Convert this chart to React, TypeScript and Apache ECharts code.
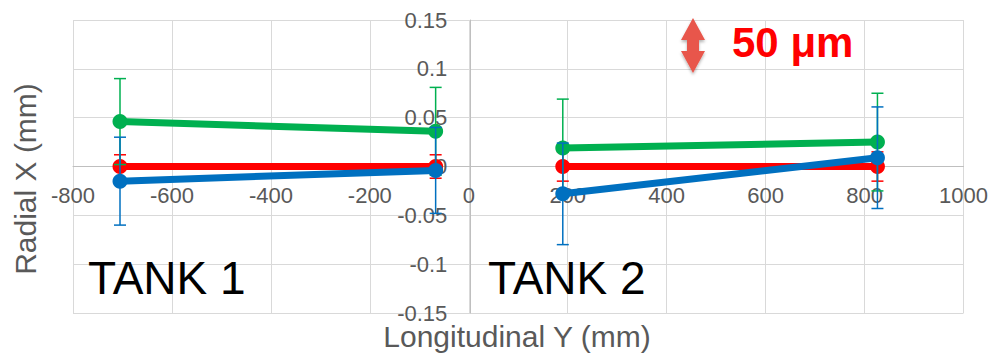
import React, { useEffect, useRef } from "react";
import * as echarts from "echarts";

const tank1X = [-705, -67];
const tank2X = [190, 826];

const green1 = [0.046, 0.036];
const greenErr1 = [0.044, 0.045];
const red1 = [0, 0];
const redErr1 = [0.012, 0.012];
const blue1 = [-0.015, -0.004];
const blueErr1 = [0.045, 0.044];

const green2 = [0.019, 0.025];
const greenErr2 = [0.05, 0.05];
const red2 = [0, 0];
const redErr2 = [0.015, 0.015];
const blue2 = [-0.028, 0.009];
const blueErr2 = [0.052, 0.052];

const xTicks = { min: -800, max: 1000, interval: 200 };
const yTicks = { min: -0.15, max: 0.15, interval: 0.05 };

const FONT = "'Liberation Sans', Arial, sans-serif";
const GREEN = "#00B050";
const RED = "#FF0000";
const BLUE = "#0070C0";

const GRID = { left: 73, right: 24, top: 20, bottom: 44 };
const W = 991;
const H = 357;

function lineSeries(name: string, xs: number[], ys: number[], color: string, z: number) {
  return {
    name,
    type: "line",
    data: xs.map((x, i) => [x, ys[i]]),
    symbol: "circle",
    symbolSize: 15,
    showSymbol: true,
    lineStyle: { color, width: 7 },
    itemStyle: { color },
    z,
  };
}

function errSeries(name: string, xs: number[], ys: number[], errs: number[], color: string, z: number) {
  return {
    name,
    type: "custom",
    data: xs.map((x, i) => [x, ys[i], errs[i]]),
    encode: { x: 0, y: 1 },
    z,
    renderItem: (params: any, api: any) => {
      const x = api.value(0);
      const y = api.value(1);
      const e = api.value(2);
      const top = api.coord([x, y + e]);
      const bot = api.coord([x, y - e]);
      const hw = 6;
      const style = { stroke: color, lineWidth: 1.5 };
      return {
        type: "group",
        children: [
          { type: "line", shape: { x1: top[0], y1: top[1], x2: bot[0], y2: bot[1] }, style },
          { type: "line", shape: { x1: top[0] - hw, y1: top[1], x2: top[0] + hw, y2: top[1] }, style },
          { type: "line", shape: { x1: bot[0] - hw, y1: bot[1], x2: bot[0] + hw, y2: bot[1] }, style },
        ],
      };
    },
  };
}

export default function App() {
  const ref = useRef<HTMLDivElement>(null);
  useEffect(() => {
    if (!ref.current) return;
    const chart = echarts.init(ref.current, null, { renderer: "svg" });
    const labelStyle = { color: "#595959", fontSize: 22, fontFamily: FONT };
    const plotW = W - GRID.left - GRID.right;
    const plotH = H - GRID.top - GRID.bottom;
    // distance from the grid's edge to the zero line of each axis
    const xOffset = -plotH * (0 - yTicks.min) / (yTicks.max - yTicks.min);
    const yOffset = -plotW * (0 - xTicks.min) / (xTicks.max - xTicks.min);
    chart.setOption({
      animation: false,
      backgroundColor: "#ffffff",
      grid: { ...GRID, containLabel: false },
      xAxis: {
        type: "value",
        min: xTicks.min,
        max: xTicks.max,
        interval: xTicks.interval,
        position: "bottom",
        offset: xOffset,
        axisLine: { show: true, onZero: false, lineStyle: { color: "#BFBFBF", width: 1 } },
        axisTick: { show: false },
        axisLabel: {
          ...labelStyle,
          margin: 18,
          showMinLabel: true,
          showMaxLabel: true,
          formatter: (v: number) => String(v),
        },
        splitLine: { show: true, lineStyle: { color: "#D9D9D9", width: 1 } },
      },
      yAxis: {
        type: "value",
        min: yTicks.min,
        max: yTicks.max,
        interval: yTicks.interval,
        position: "left",
        offset: yOffset,
        axisLine: { show: true, onZero: false, lineStyle: { color: "#BFBFBF", width: 1 } },
        axisTick: { show: false },
        axisLabel: {
          ...labelStyle,
          margin: 23,
          showMinLabel: true,
          showMaxLabel: true,
          formatter: (v: number) => String(+v.toFixed(2)),
        },
        splitLine: { show: true, lineStyle: { color: "#D9D9D9", width: 1 } },
      },
      series: [
        errSeries("red1 err", tank1X, red1, redErr1, RED, 2),
        lineSeries("red1", tank1X, red1, RED, 2),
        errSeries("red2 err", tank2X, red2, redErr2, RED, 2),
        lineSeries("red2", tank2X, red2, RED, 2),
        errSeries("green1 err", tank1X, green1, greenErr1, GREEN, 3),
        lineSeries("green1", tank1X, green1, GREEN, 3),
        errSeries("green2 err", tank2X, green2, greenErr2, GREEN, 3),
        lineSeries("green2", tank2X, green2, GREEN, 3),
        errSeries("blue1 err", tank1X, blue1, blueErr1, BLUE, 4),
        lineSeries("blue1", tank1X, blue1, BLUE, 4),
        errSeries("blue2 err", tank2X, blue2, blueErr2, BLUE, 4),
        lineSeries("blue2", tank2X, blue2, BLUE, 4),
      ],
      graphic: [
        {
          type: "text",
          x: 25,
          y: 179,
          rotation: Math.PI / 2,
          style: {
            text: "Radial X (mm)",
            fill: "#595959",
            font: `30px ${FONT}`,
            align: "center",
            verticalAlign: "middle",
          },
        },
        {
          type: "text",
          x: 517,
          y: 336,
          style: {
            text: "Longitudinal Y (mm)",
            fill: "#595959",
            font: `30px ${FONT}`,
            align: "center",
            verticalAlign: "middle",
          },
        },
        {
          type: "text",
          x: 88,
          y: 278,
          z: 20,
          style: { text: "TANK 1", fill: "#000000", font: `46px ${FONT}`, align: "left", verticalAlign: "middle" },
        },
        {
          type: "text",
          x: 488,
          y: 278,
          z: 20,
          style: { text: "TANK 2", fill: "#000000", font: `46px ${FONT}`, align: "left", verticalAlign: "middle" },
        },
        {
          type: "text",
          x: 732,
          y: 42,
          z: 20,
          style: { text: "50 μm", fill: "#FF0000", font: `bold 42px ${FONT}`, align: "left", verticalAlign: "middle" },
        },
        {
          type: "polygon",
          z: 20,
          shape: {
            points: [
              [693, 18], [705, 40], [699, 40], [699, 51], [705, 51],
              [693, 73], [681, 51], [687, 51], [687, 40], [681, 40],
            ],
          },
          style: {
            fill: "#E8574C",
            shadowBlur: 3,
            shadowOffsetY: 2,
            shadowColor: "rgba(0,0,0,0.3)",
          },
        },
      ],
    });
    return () => chart.dispose();
  }, []);
  return (
    <div
      ref={ref}
      style={{ position: "fixed", left: 0, top: 0, width: W, height: H }}
    />
  );
}
